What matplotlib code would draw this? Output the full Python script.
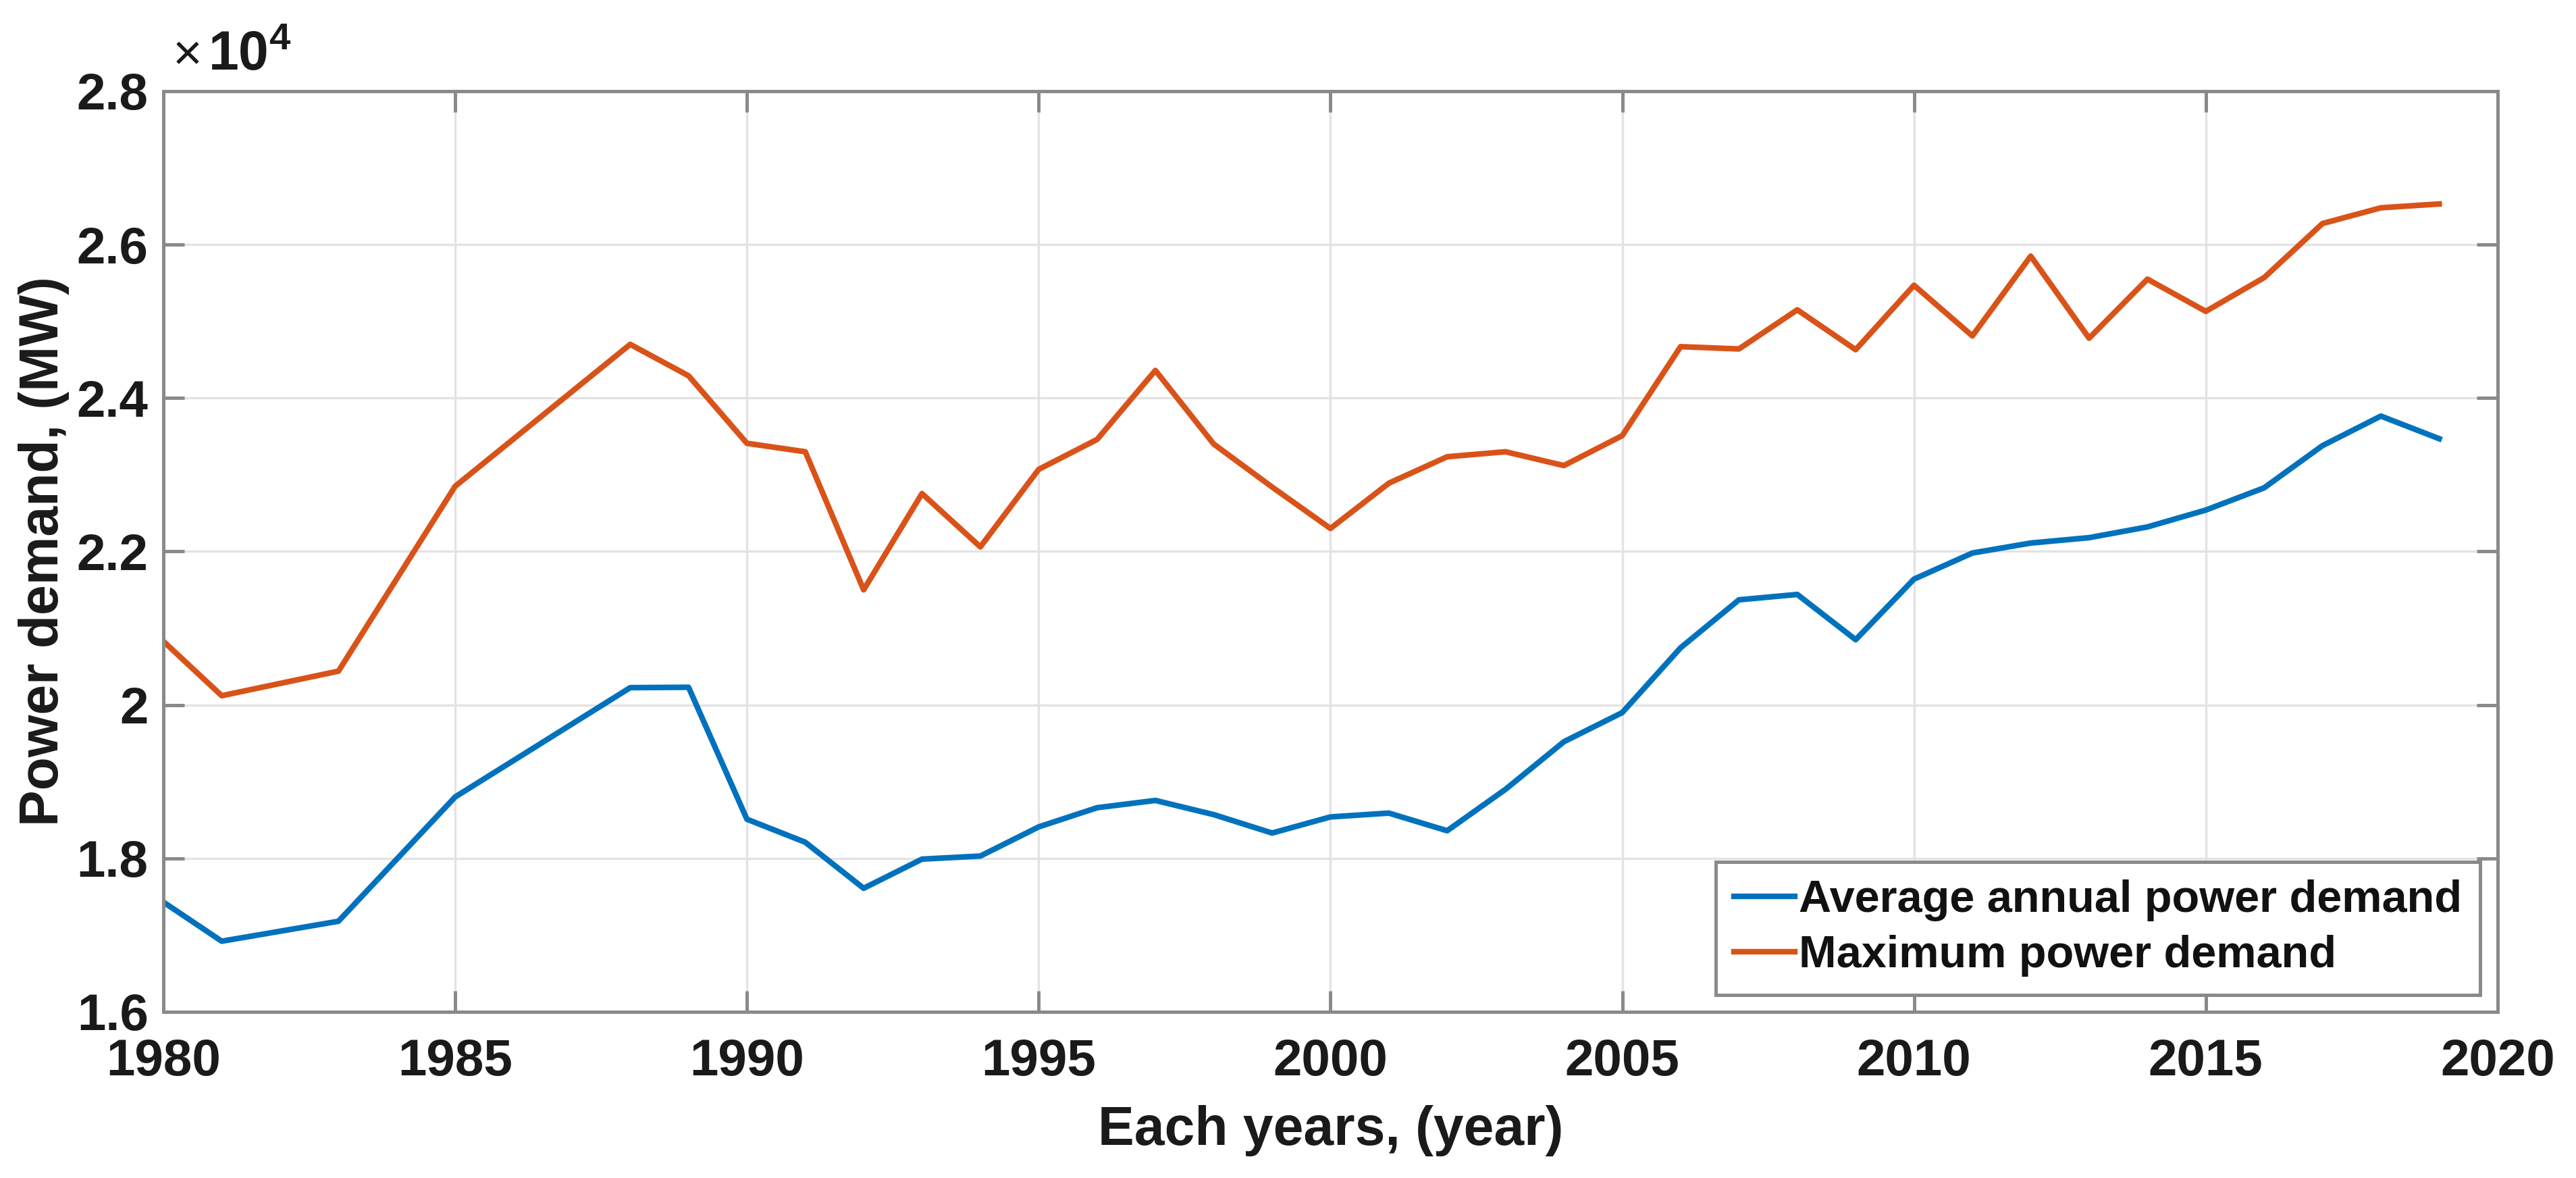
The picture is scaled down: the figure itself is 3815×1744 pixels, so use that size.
import matplotlib
matplotlib.use("Agg")
import matplotlib.pyplot as plt
from matplotlib.ticker import FuncFormatter, MultipleLocator

years = [1980, 1981, 1983, 1985, 1988, 1989, 1990, 1991, 1992, 1993, 1994,
         1995, 1996, 1997, 1998, 1999, 2000, 2001, 2002, 2003, 2004, 2005,
         2006, 2007, 2008, 2009, 2010, 2011, 2012, 2013, 2014, 2015, 2016,
         2017, 2018, 2019]

avg_demand = [17430, 16920, 17180, 18800, 20225, 20230, 18510, 18210, 17610,
              17990, 18030, 18410, 18660, 18755, 18570, 18330, 18540, 18590,
              18360, 18900, 19520, 19900, 20745, 21370, 21440, 20850, 21640,
              21980, 22110, 22180, 22320, 22540, 22830, 23380, 23765, 23470]

max_demand = [20830, 20120, 20440, 22850, 24700, 24290, 23410, 23300, 21500,
              22755, 22060, 23070, 23460, 24360, 23400, 22840, 22300, 22890,
              23235, 23300, 23120, 23510, 24670, 24640, 25150, 24630, 25470,
              24810, 25850, 24780, 25550, 25130, 25570, 26275, 26480, 26530]

labels = ["Average annual power demand", "Maximum power demand"]

plt.rcParams['font.family'] = ['Liberation Sans', 'DejaVu Sans']
plt.rcParams['font.weight'] = 'bold'
plt.rcParams['mathtext.fontset'] = 'custom'
plt.rcParams['mathtext.rm'] = 'Liberation Sans:bold'
plt.rcParams['mathtext.it'] = 'Liberation Sans:bold'
plt.rcParams['mathtext.bf'] = 'Liberation Sans:bold'

fig = plt.figure(figsize=(19.08, 8.72), dpi=200)
ax = fig.add_axes([0.0634, 0.1411, 0.9059, 0.7815])

ax.plot(years, avg_demand, color='#0072BD', lw=3.0, label=labels[0])
ax.plot(years, max_demand, color='#D95319', lw=3.0, label=labels[1])

ax.set_xlim(1980, 2020)
ax.set_ylim(16000, 28000)
ax.xaxis.set_major_locator(MultipleLocator(5))
ax.yaxis.set_major_locator(MultipleLocator(2000))
ax.yaxis.set_major_formatter(FuncFormatter(lambda v, p: '%g' % (v / 1e4)))

ax.grid(True, color='#e3e3e3', lw=1.2)
ax.set_axisbelow(True)
for s in ax.spines.values():
    s.set_color('#8a8a8a')
    s.set_linewidth(1.8)
ax.tick_params(direction='in', length=11, width=1.8, color='#8a8a8a',
               top=True, right=True, labelsize=27.5, labelcolor='#1a1a1a')
ax.tick_params(axis='x', pad=14)
ax.tick_params(axis='y', pad=8)

ax.set_xlabel('Each years, (year)', fontsize=29, fontweight='bold',
              color='#1a1a1a', labelpad=10)
ax.set_ylabel('Power demand, (MW)', fontsize=29, fontweight='bold',
              color='#1a1a1a', labelpad=4)

# exponent label above the y axis
ax.text(0.004, 1.012, '×', transform=ax.transAxes, fontsize=27,
        fontweight='normal', color='#1a1a1a', ha='left', va='bottom')
ax.text(0.019, 1.01, r'10$^{4}$', transform=ax.transAxes,
        fontsize=29, color='#1a1a1a', ha='left', va='bottom')

leg = ax.legend(loc='lower right', bbox_to_anchor=(0.9625, 0.1554),
                bbox_transform=fig.transFigure, borderaxespad=0,
                fontsize=24, fancybox=False, framealpha=1,
                edgecolor='#8a8a8a', handlelength=1.35, handletextpad=0.1,
                borderpad=0.4, labelspacing=0.3)
leg.get_frame().set_linewidth(1.8)
for t in leg.get_texts():
    t.set_color('#111111')

plt.savefig('out.png', dpi=200)
